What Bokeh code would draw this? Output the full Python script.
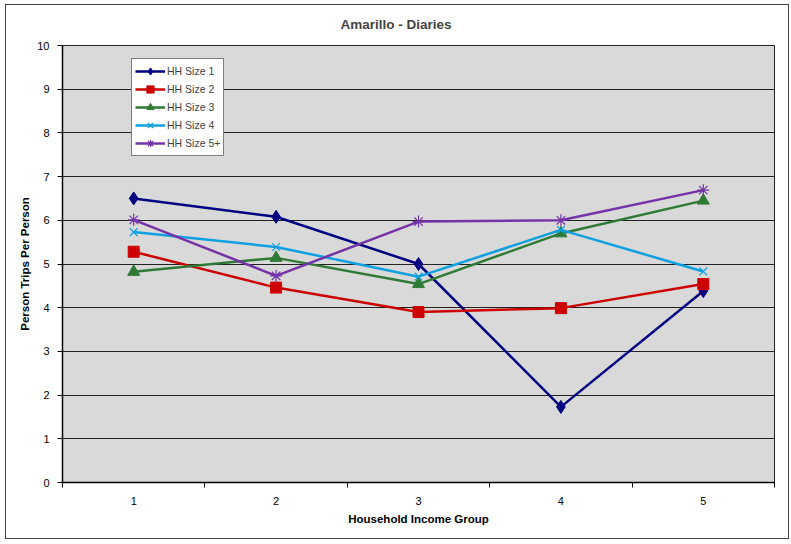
from bokeh.plotting import figure
from bokeh.models import FixedTicker, Legend, LegendItem, ColumnDataSource
from bokeh.embed import file_html
from bokeh.resources import INLINE

groups = [1, 2, 3, 4, 5]
hh1 = [6.50, 6.08, 5.00, 1.73, 4.38]
hh2 = [5.28, 4.46, 3.90, 3.99, 4.54]
hh3 = [4.82, 5.14, 4.54, 5.70, 6.45]
hh4 = [5.73, 5.39, 4.71, 5.78, 4.83]
hh5 = [6.01, 4.73, 5.97, 6.00, 6.69]
series_names = ["HH Size 1", "HH Size 2", "HH Size 3", "HH Size 4", "HH Size 5+"]
y_ticks = [0, 1, 2, 3, 4, 5, 6, 7, 8, 9, 10]

FONT = "Liberation Sans"

p = figure(width=784, height=535, output_backend="svg", toolbar_location=None,
           x_range=(0.5, 5.5), y_range=(0, 10),
           min_border_left=56, min_border_right=16, min_border_top=39, min_border_bottom=58)
p.styles = {"border": "1px solid #444444", "margin-left": "5px", "margin-top": "4px"}

p.title.text = "Amarillo - Diaries"
p.title.align = "left"
p.title.vertical_align = "top"
p.title.text_font = FONT
p.title.text_font_size = "13.5px"
p.title.text_font_style = "bold"
p.title.offset = 278
p.title.standoff = 23

p.background_fill_color = "#D9D9D9"
p.border_fill_color = "white"
p.outline_line_color = "#222222"
p.outline_line_width = 1

# axes
p.xaxis.ticker = FixedTicker(ticks=groups, minor_ticks=[0.5, 1.5, 2.5, 3.5, 4.5, 5.5])
p.xaxis.major_tick_line_color = None
p.xaxis.minor_tick_line_color = "black"
p.xaxis.minor_tick_out = 5
p.xaxis.minor_tick_in = 0
p.xaxis.major_label_standoff = 8
p.xaxis.axis_label = "Household Income Group"
p.xaxis.axis_label_standoff = 5

p.yaxis.ticker = FixedTicker(ticks=y_ticks)
p.yaxis.major_tick_out = 5
p.yaxis.major_tick_in = 0
p.yaxis.minor_tick_line_color = None
p.yaxis.major_label_standoff = 8
p.yaxis.axis_label = "Person Trips Per Person"
p.yaxis.axis_label_standoff = 3

for ax in (p.xaxis[0], p.yaxis[0]):
    ax.axis_line_color = "black"
    ax.axis_line_width = 1.5
    ax.major_label_text_font = FONT
    ax.major_label_text_font_size = "11px"
    ax.major_label_text_color = "black"
    ax.axis_label_text_font = FONT
    ax.axis_label_text_font_size = "11.5px"
    ax.axis_label_text_font_style = "bold"
    ax.axis_label_text_color = "black"

p.xgrid.grid_line_color = None
p.ygrid.grid_line_color = "#222222"
p.ygrid.grid_line_width = 1

colors = ["#000080", "#CC0000", "#2F7A36", "#0EA0E0", "#7434A8"]
markers = ["diamond", "square", "triangle", "x", "asterisk"]
sizes = [13, 11, 12, 11, 12]
data = [hh1, hh2, hh3, hh4, hh5]

items = []
for name, ys, c, m, s in zip(series_names, data, colors, markers, sizes):
    src = ColumnDataSource(dict(x=groups, y=ys))
    r1 = p.line("x", "y", source=src, line_color=c, line_width=2.5)
    if m in ("x", "asterisk"):
        r2 = p.scatter("x", "y", source=src, marker=m, size=s, line_color=c, line_width=1.2)
    else:
        r2 = p.scatter("x", "y", source=src, marker=m, size=s, fill_color=c, line_color=c)
    items.append(LegendItem(label=name, renderers=[r1, r2]))

legend = Legend(items=items, location=(69, 326))
legend.label_text_font = FONT
legend.label_text_font_size = "10.5px"
legend.label_standoff = 2
legend.glyph_width = 30
legend.glyph_height = 18
legend.label_height = 18
legend.spacing = 0
legend.padding = 3
legend.margin = 0
legend.border_line_color = "black"
legend.border_line_width = 1
legend.background_fill_color = "white"
legend.background_fill_alpha = 1
p.add_layout(legend, "center")

open("out.html", "w").write(file_html(p, INLINE))
